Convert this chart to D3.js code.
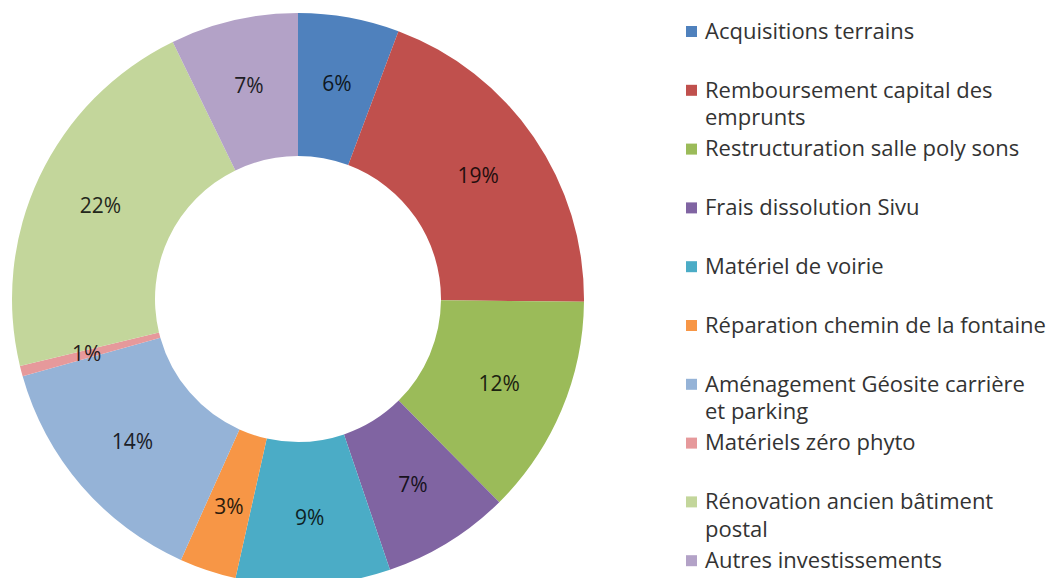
<!DOCTYPE html>
<html>
<head>
<meta charset="utf-8">
<script src="https://cdn.jsdelivr.net/npm/d3@7"></script>
<style>
  body { margin: 0; background: #fff; }
  svg { display: block; font-family: "Open Sans", Lato, sans-serif; }
</style>
</head>
<body>
<div id="chart"></div>
<script>
// categories (legend order = slice order, clockwise from 12 o'clock)
var categories = [
  "Acquisitions terrains",
  "Remboursement capital des\nemprunts",
  "Restructuration salle poly sons",
  "Frais dissolution Sivu",
  "Matériel de voirie",
  "Réparation chemin de la fontaine",
  "Aménagement Géosite carrière\net parking",
  "Matériels zéro phyto",
  "Rénovation ancien bâtiment\npostal",
  "Autres investissements"
];

// shares (in %)
var values = [5.7, 19.4, 12.4, 7.2, 8.7, 3.2, 13.9, 0.6, 21.5, 7.2];

var colors = ["#4f81bd", "#c0504d", "#9bbb59", "#8064a2", "#4bacc6",
              "#f79646", "#95b3d7", "#e6999b", "#c3d69b", "#b3a2c7"];

var width = 1060, height = 578;
var cx = 298, cy = 299, outerR = 286, innerR = 143;

var total = d3.sum(values);
var data = values.map(function(v, i) {
  return {name: categories[i], value: v, color: colors[i]};
});

var svg = d3.select("#chart").append("svg")
  .attr("width", width)
  .attr("height", height);

var pie = d3.pie()
  .sort(null)
  .value(function(d) { return d.value; });

var arc = d3.arc()
  .innerRadius(innerR)
  .outerRadius(outerR);

var labelArc = d3.arc()
  .innerRadius(outerR - 68)
  .outerRadius(innerR + 76);

var g = svg.append("g")
  .attr("transform", "translate(" + cx + "," + cy + ")");

g.selectAll("path.slice")
  .data(pie(data))
  .enter().append("path")
  .attr("class", "slice")
  .attr("d", arc)
  .attr("fill", function(d) { return d.data.color; });

// percentage labels
g.selectAll("text.pct")
  .data(pie(data))
  .enter().append("text")
  .attr("class", "pct")
  .attr("transform", function(d) { return "translate(" + labelArc.centroid(d) + ")"; })
  .attr("text-anchor", "middle")
  .attr("dy", "0.35em")
  .style("font-size", "21px")
  .attr("fill", function(d) { return d3.interpolateRgb(d.data.color, "#000")(0.82); })
  .text(function(d) { return Math.round(d.data.value / total * 100) + "%"; });

// legend
var legendY = d3.scaleLinear().domain([0, 1]).range([31, 89.8]);

var legend = svg.append("g")
  .attr("class", "legend");

var item = legend.selectAll("g.item")
  .data(data)
  .enter().append("g")
  .attr("class", "item")
  .attr("transform", function(d, i) { return "translate(686," + legendY(i) + ")"; });

item.append("rect")
  .attr("x", 0)
  .attr("y", -5)
  .attr("width", 11)
  .attr("height", 11)
  .attr("fill", function(d) { return d.color; });

item.append("text")
  .attr("x", 19)
  .attr("fill", "#333")
  .style("font-size", "22px")
  .each(function(d) {
    var lines = d.name.split("\n");
    var t = d3.select(this);
    lines.forEach(function(line, k) {
      t.append("tspan")
        .attr("x", 19)
        .attr("y", k * 28)
        .attr("dy", "0.35em")
        .text(line);
    });
  });
</script>
</body>
</html>
